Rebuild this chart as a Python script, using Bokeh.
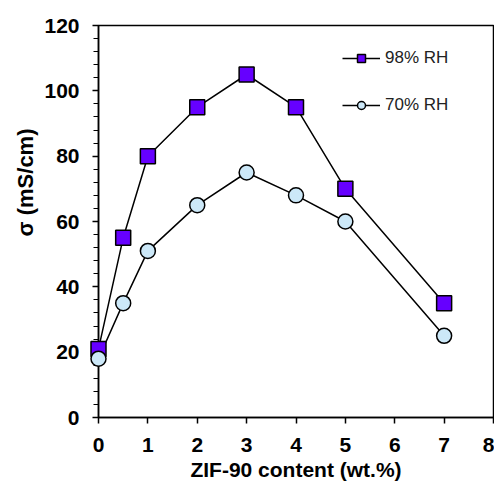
from bokeh.plotting import figure
from bokeh.models import Range1d, Legend, LegendItem, FixedTicker, Title
from bokeh.embed import file_html
from bokeh.resources import INLINE

zif_content = [0, 0.5, 1, 2, 3, 4, 5, 7]
sigma_98 = [21, 55, 80, 95, 105, 95, 70, 35]
sigma_70 = [18, 35, 51, 65, 75, 68, 60, 25]
x_ticks = [0, 1, 2, 3, 4, 5, 6, 7, 8]
y_ticks = [0, 20, 40, 60, 80, 100, 120]
x_title = "ZIF-90 content (wt.%)"
y_title = "σ (mS/cm)"

FONT = "Liberation Sans"

p = figure(width=494, height=483, output_backend="svg", toolbar_location=None,
           x_range=Range1d(0, 8), y_range=Range1d(0, 120),
           min_border_left=98, min_border_right=1, min_border_top=25, min_border_bottom=66)
p.grid.visible = False
p.outline_line_color = "black"
p.outline_line_width = 1.5
p.background_fill_color = "white"
p.border_fill_color = "white"

# axes
for ax in (p.xaxis[0], p.yaxis[0]):
    ax.axis_line_color = "black"
    ax.axis_line_width = 1.5
    ax.major_tick_line_color = "black"
    ax.major_tick_line_width = 1.5
    ax.minor_tick_line_color = "black"
    ax.minor_tick_line_width = 1.2
    ax.major_tick_in = 0
    ax.minor_tick_in = 0
    ax.major_label_text_font = FONT
    ax.major_label_text_font_style = "bold"
    ax.major_label_text_font_size = "21px"
    ax.major_label_text_color = "black"

p.xaxis.ticker = FixedTicker(ticks=x_ticks)
p.xaxis.major_tick_out = 6
p.xaxis.minor_tick_out = 0
p.xaxis.major_label_standoff = 14

p.yaxis.ticker = FixedTicker(ticks=y_ticks, minor_ticks=[i * 4 for i in range(31)])
p.yaxis.major_tick_out = 6
p.yaxis.minor_tick_out = 5
p.yaxis.major_label_standoff = 13

# axis titles (the y title sits above centre, as in the original)
p.add_layout(Title(text=x_title, align="center", text_font=FONT,
                   text_font_style="bold", text_font_size="21px",
                   text_color="black", standoff=3), "below")
p.add_layout(Title(text=y_title, align="right", offset=103, text_font=FONT,
                   text_font_style="bold", text_font_size="22px",
                   text_color="black", standoff=7), "left")

# data
l98 = p.line(zif_content, sigma_98, line_color="black", line_width=1.5)
l70 = p.line(zif_content, sigma_70, line_color="black", line_width=1.5)
s98 = p.scatter(zif_content, sigma_98, marker="square", size=15,
                fill_color="#6600ff", line_color="black", line_width=1.5, level="overlay")
s70 = p.scatter(zif_content, sigma_70, marker="circle", size=15,
                fill_color="#cce8f8", line_color="black", line_width=1.5, level="overlay")

legend = Legend(items=[LegendItem(label="98% RH", renderers=[l98, s98]),
                       LegendItem(label="70% RH", renderers=[l70, s70])],
                location=(244, 302), padding=0, margin=0, spacing=27,
                glyph_width=38, glyph_height=20, label_standoff=5,
                label_text_font=FONT, label_text_font_size="17px",
                label_text_color="#222222",
                border_line_color=None, background_fill_alpha=0)
p.add_layout(legend)

open("out.html", "w").write(file_html(p, INLINE))
